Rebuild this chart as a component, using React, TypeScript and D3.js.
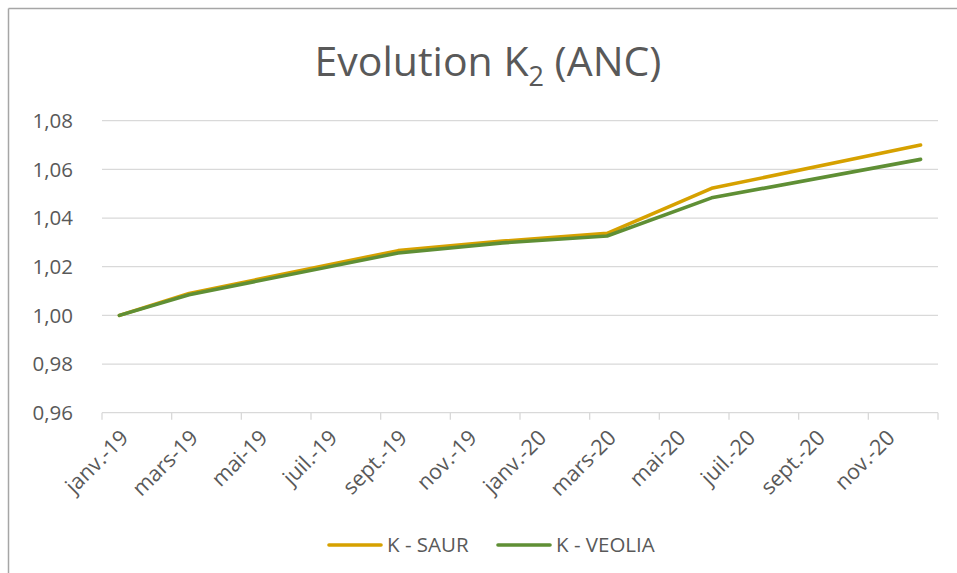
import React from 'react'
import * as d3 from 'd3'

// data (month index: 0 = janv.-19)
const months = [0, 2, 8, 11, 14, 17, 23]
const saur = [1.0, 1.009, 1.0266, 1.0305, 1.0337, 1.0522, 1.07]
const veolia = [1.0, 1.0085, 1.0256, 1.0298, 1.0326, 1.0483, 1.0641]
const tickLabels = ['janv.-19', 'mars-19', 'mai-19', 'juil.-19', 'sept.-19', 'nov.-19',
  'janv.-20', 'mars-20', 'mai-20', 'juil.-20', 'sept.-20', 'nov.-20']
const yTicks = [0.96, 0.98, 1.0, 1.02, 1.04, 1.06, 1.08]
const seriesNames = ['K - SAUR', 'K - VEOLIA']
const colors = ['#D6A100', '#5F8F35']

const W = 957
const H = 573
const FONT = '"Open Sans", "Liberation Sans", sans-serif'
const TXT = '#595959'
const GRID = '#D9D9D9'

const App = () => {
  const x = d3.scaleLinear().domain([0, 24]).range([102, 938])
  const y = d3.scaleLinear().domain([0.96, 1.08]).range([412.7, 120.7])
  const frFmt = (v: number) => d3.format('.2f')(v).replace('.', ',')

  const line = d3.line<number>()
    .x((_, i) => x(months[i] + 0.5))
    .y(d => y(d))

  const series = [saur, veolia]
  const tickIdx = d3.range(0, 25, 2)

  return (
    <svg width={W} height={H} style={{position: 'absolute', left: 0, top: 0}} fontFamily={FONT}>
      <rect x={0} y={0} width={W} height={H} fill="#fff" />
      {/* chart border (only top and left visible) */}
      <line x1={8.5} x2={W} y1={8.5} y2={8.5} stroke="#A6A6A6" strokeWidth={1.5} />
      <line x1={8.5} x2={8.5} y1={8.5} y2={H} stroke="#A6A6A6" strokeWidth={1.5} />

      {/* title */}
      <text x={488} y={76} textAnchor="middle" fontSize={41} fill={TXT}>
        Evolution K<tspan fontSize={27} dy={10}>2</tspan><tspan dy={-10}> (ANC)</tspan>
      </text>

      {/* gridlines + y labels */}
      {yTicks.map(t => (
        <g key={t}>
          {t > 0.96 && <line x1={102} x2={938} y1={y(t)} y2={y(t)} stroke={GRID} strokeWidth={1.3} />}
          <text x={73} y={y(t)} dy="0.35em" textAnchor="end" fontSize={20.5} fill={TXT}>{frFmt(t)}</text>
        </g>
      ))}

      {/* x axis */}
      <line x1={102} x2={938} y1={y(0.96)} y2={y(0.96)} stroke={GRID} strokeWidth={1.3} />
      {tickIdx.map(m => (
        <line key={m} x1={x(m)} x2={x(m)} y1={y(0.96)} y2={y(0.96) + 7} stroke={GRID} strokeWidth={1.3} />
      ))}
      {tickLabels.map((lab, i) => (
        <text key={lab} transform={`translate(${x(i * 2 + 0.5) + 5},${y(0.96) + 21}) rotate(-45)`}
          textAnchor="end" dy="0.35em" fontSize={21.5} fill={TXT}>{lab}</text>
      ))}

      {/* series */}
      {series.map((s, i) => (
        <path key={i} d={line(s) || ''} fill="none" stroke={colors[i]} strokeWidth={3.6}
          strokeLinejoin="round" strokeLinecap="round" />
      ))}

      {/* legend */}
      {seriesNames.map((n, i) => (
        <g key={n} transform={`translate(${329 + i * 169},545)`}>
          <line x1={0} x2={52} y1={0} y2={0} stroke={colors[i]} strokeWidth={3.6} strokeLinecap="round" />
          <text x={58} y={0} dy="0.35em" fontSize={20.5} fill={TXT}>{n}</text>
        </g>
      ))}
    </svg>
  )
}

export default App
